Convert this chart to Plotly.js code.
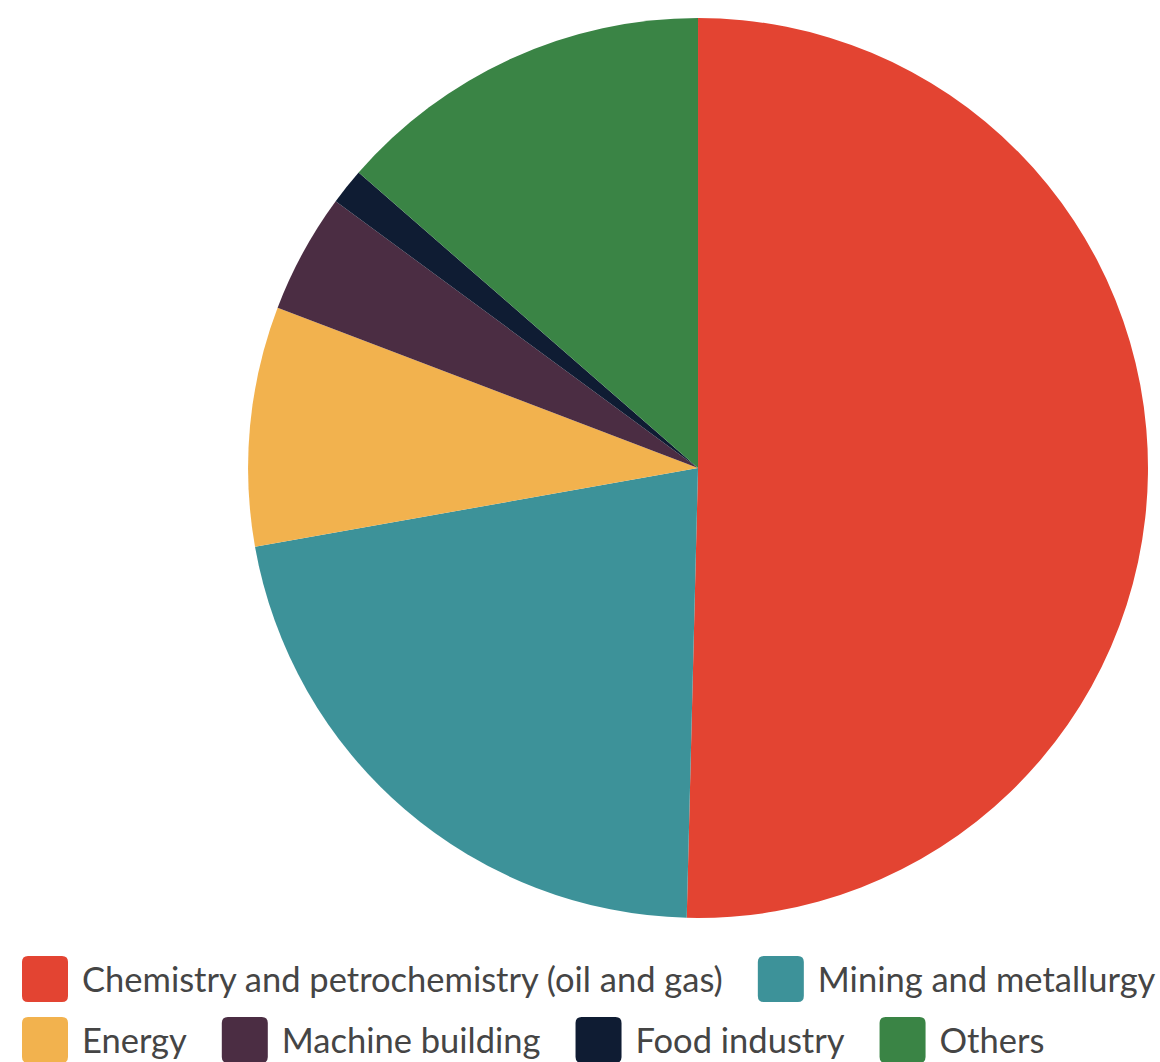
<!DOCTYPE html>
<html>
<head>
<meta charset="utf-8">
<script src="https://cdn.plot.ly/plotly-3.0.1.min.js"></script>
<style>html,body{margin:0;padding:0;background:#fff;}#chart{width:1160px;height:1062px;}</style>
</head>
<body>
<div id="chart"></div>
<script>
const categories = ["Chemistry and petrochemistry (oil and gas)", "Mining and metallurgy", "Energy", "Machine building", "Food industry", "Others"];
const shares = [50.4, 21.8, 8.6, 4.3, 1.3, 13.6];
const colors = ["#E34432", "#3D9299", "#F2B24E", "#4B2D43", "#0F1C33", "#3A8445"];

const data = [{
  type: "pie",
  labels: categories,
  values: shares,
  sort: false,
  direction: "clockwise",
  rotation: 0,
  textinfo: "none",
  hoverinfo: "label+percent",
  marker: {colors: colors, line: {width: 0}},
  domain: {x: [0.2138, 0.9897], y: [0.1356, 0.983]}
}];

const layout = {
  width: 1160,
  height: 1062,
  margin: {l: 0, r: 0, t: 0, b: 0},
  paper_bgcolor: "#ffffff",
  showlegend: true,
  legend: {
    orientation: "h",
    x: 0.5, xanchor: "center",
    y: 0.0, yanchor: "bottom",
    bgcolor: "rgba(0,0,0,0)",
    borderwidth: 0,
    font: {family: "Lato, 'Open Sans', sans-serif", size: 34.5, color: "#454545"},
    traceorder: "normal"
  }
};

// legend flow layout (rows left aligned, like the reference)
const legendRowsY = [979, 1040];
const legendStartX = 22;
const legendGap = 35;
const swatch = 46;
const textOffset = 60;

Plotly.newPlot("chart", data, layout, {displayModeBar: false, staticPlot: true}).then(function(gd){
  const leg = gd.querySelector(".legend");
  if (!leg) return;
  leg.setAttribute("transform", "translate(0,0)");
  leg.querySelectorAll("[clip-path]").forEach(function(e){ e.removeAttribute("clip-path"); });
  leg.querySelectorAll(".scrollbox, .groups").forEach(function(e){ e.setAttribute("transform", "translate(0,0)"); });
  const bg = leg.querySelector("rect.bg"); if (bg) bg.style.display = "none";
  const items = leg.querySelectorAll("g.traces");
  let x = legendStartX, row = 0;
  const h = swatch / 2, r = 6;
  const d = "M" + (-h + r) + "," + (-h) + "H" + (h - r) + "Q" + h + "," + (-h) + " " + h + "," + (-h + r) +
            "V" + (h - r) + "Q" + h + "," + h + " " + (h - r) + "," + h +
            "H" + (-h + r) + "Q" + (-h) + "," + h + " " + (-h) + "," + (h - r) +
            "V" + (-h + r) + "Q" + (-h) + "," + (-h) + " " + (-h + r) + "," + (-h) + "Z";
  items.forEach(function(it){
    const p = it.querySelector(".legendpoints path");
    if (p) { p.setAttribute("d", d); p.setAttribute("transform", "translate(" + h + ",0)"); p.style.strokeWidth = "0"; }
    const t = it.querySelector("text.legendtext");
    t.setAttribute("x", textOffset);
    const tw = t.getComputedTextLength();
    const w = textOffset + tw;
    if (x + w > 1158 && x > legendStartX) { row += 1; x = legendStartX; }
    it.setAttribute("transform", "translate(" + x + "," + legendRowsY[Math.min(row, legendRowsY.length - 1)] + ")");
    const toggle = it.querySelector("rect.legendtoggle"); if (toggle) toggle.style.display = "none";
    x += w + legendGap;
  });
});
</script>
</body>
</html>
